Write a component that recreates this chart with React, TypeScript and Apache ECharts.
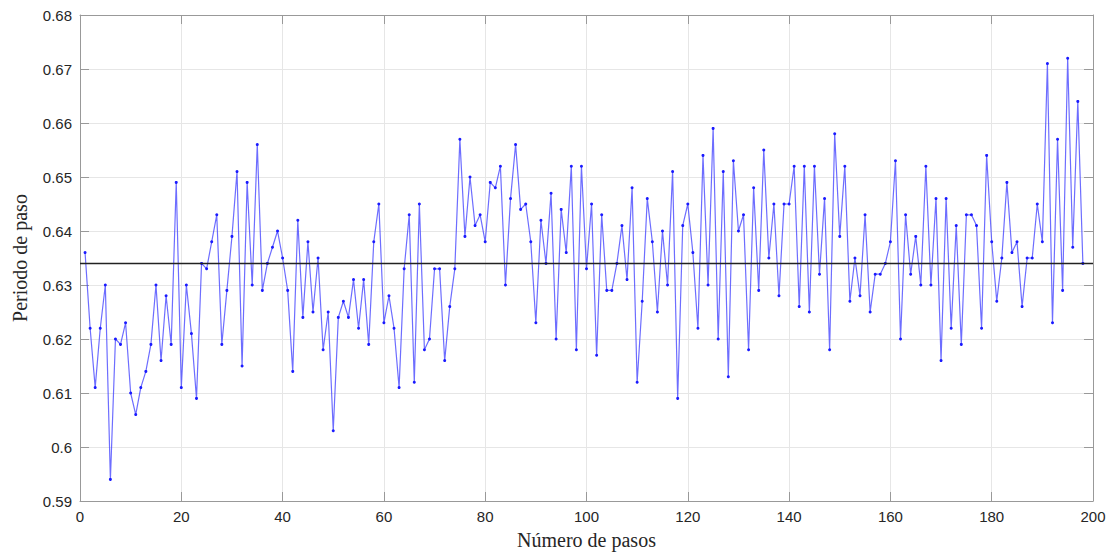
import React, { useEffect, useRef } from "react";
import * as echarts from "echarts";

const steps: number[] = Array.from({ length: 198 }, (_, i) => i + 1);
const periods: number[] = [
  0.636, 0.622, 0.611, 0.622, 0.630, 0.594, 0.620, 0.619, 0.623, 0.610,
  0.606, 0.611, 0.614, 0.619, 0.630, 0.616, 0.628, 0.619, 0.649, 0.611,
  0.630, 0.621, 0.609, 0.634, 0.633, 0.638, 0.643, 0.619, 0.629, 0.639,
  0.651, 0.615, 0.649, 0.630, 0.656, 0.629, 0.634, 0.637, 0.640, 0.635,
  0.629, 0.614, 0.642, 0.624, 0.638, 0.625, 0.635, 0.618, 0.625, 0.603,
  0.624, 0.627, 0.624, 0.631, 0.622, 0.631, 0.619, 0.638, 0.645, 0.623,
  0.628, 0.622, 0.611, 0.633, 0.643, 0.612, 0.645, 0.618, 0.620, 0.633,
  0.633, 0.616, 0.626, 0.633, 0.657, 0.639, 0.650, 0.641, 0.643, 0.638,
  0.649, 0.648, 0.652, 0.630, 0.646, 0.656, 0.644, 0.645, 0.638, 0.623,
  0.642, 0.634, 0.647, 0.620, 0.644, 0.636, 0.652, 0.618, 0.652, 0.633,
  0.645, 0.617, 0.643, 0.629, 0.629, 0.634, 0.641, 0.631, 0.648, 0.612,
  0.627, 0.646, 0.638, 0.625, 0.640, 0.630, 0.651, 0.609, 0.641, 0.645,
  0.636, 0.622, 0.654, 0.630, 0.659, 0.620, 0.651, 0.613, 0.653, 0.640,
  0.643, 0.618, 0.648, 0.629, 0.655, 0.635, 0.645, 0.628, 0.645, 0.645,
  0.652, 0.626, 0.652, 0.625, 0.652, 0.632, 0.646, 0.618, 0.658, 0.639,
  0.652, 0.627, 0.635, 0.628, 0.643, 0.625, 0.632, 0.632, 0.634, 0.638,
  0.653, 0.620, 0.643, 0.632, 0.639, 0.630, 0.652, 0.630, 0.646, 0.616,
  0.646, 0.622, 0.641, 0.619, 0.643, 0.643, 0.641, 0.622, 0.654, 0.638,
  0.627, 0.635, 0.649, 0.636, 0.638, 0.626, 0.635, 0.635, 0.645, 0.638,
  0.671, 0.623, 0.657, 0.629, 0.672, 0.637, 0.664, 0.634,
];
const meanPeriod = 0.634;
const xTitle = "Número de pasos";
const yTitle = "Periodo de paso";

export default function App() {
  const ref = useRef<HTMLDivElement>(null);
  useEffect(() => {
    if (!ref.current) return;
    const chart = echarts.init(ref.current, undefined, { renderer: "svg" });
    const axisColor = "#999999";
    const labelStyle = { color: "#262626", fontSize: 15, fontFamily: "Liberation Sans, Arial, sans-serif" };
    const titleStyle = { color: "#262626", fontSize: 20, fontFamily: "Liberation Serif, Times New Roman, serif" };
    chart.setOption({
      animation: false,
      backgroundColor: "#ffffff",
      grid: { left: 80, right: 19, top: 15, bottom: 53, containLabel: false },
      xAxis: [
        {
          type: "value", min: 0, max: 200, interval: 20,
          name: xTitle, nameLocation: "middle", nameGap: 29, nameTextStyle: titleStyle,
          axisLine: { show: true, onZero: false, lineStyle: { color: axisColor, width: 1 } },
          axisTick: { show: true, inside: true, length: 9, lineStyle: { color: axisColor } },
          axisLabel: { ...labelStyle, margin: 8 },
          splitLine: { show: true, lineStyle: { color: "#e6e6e6", width: 1 } },
        },
        {
          type: "value", min: 0, max: 200, interval: 20, position: "top",
          axisLine: { show: true, onZero: false, lineStyle: { color: axisColor, width: 1 } },
          axisTick: { show: true, inside: true, length: 9, lineStyle: { color: axisColor } },
          axisLabel: { show: false }, splitLine: { show: false },
        },
      ],
      yAxis: [
        {
          type: "value", min: 0.59, max: 0.68, interval: 0.01,
          name: yTitle, nameLocation: "middle", nameGap: 50, nameTextStyle: titleStyle,
          axisLine: { show: true, onZero: false, lineStyle: { color: axisColor, width: 1 } },
          axisTick: { show: true, inside: true, length: 9, lineStyle: { color: axisColor } },
          axisLabel: { ...labelStyle, margin: 8, formatter: (v: number) => String(parseFloat(v.toFixed(2))) },
          splitLine: { show: true, lineStyle: { color: "#e6e6e6", width: 1 } },
        },
        {
          type: "value", min: 0.59, max: 0.68, interval: 0.01, position: "right",
          axisLine: { show: true, onZero: false, lineStyle: { color: axisColor, width: 1 } },
          axisTick: { show: true, inside: true, length: 9, lineStyle: { color: axisColor } },
          axisLabel: { show: false }, splitLine: { show: false },
        },
      ],
      series: [
        {
          type: "line",
          data: steps.map((s, i) => [s, periods[i]]),
          symbol: "circle",
          symbolSize: 3,
          showSymbol: true,
          lineStyle: { color: "rgba(60,60,255,0.75)", width: 1.2 },
          itemStyle: { color: "#1a1aff" },
          markLine: {
            silent: true,
            symbol: "none",
            precision: 4,
            label: { show: false },
            lineStyle: { color: "#222222", type: "solid", width: 1.3 },
            data: [{ yAxis: meanPeriod }],
          },
        },
      ],
    });
    return () => chart.dispose();
  }, []);
  return <div ref={ref} style={{ width: 1112, height: 555, position: "absolute", left: 0, top: 0 }} />;
}
